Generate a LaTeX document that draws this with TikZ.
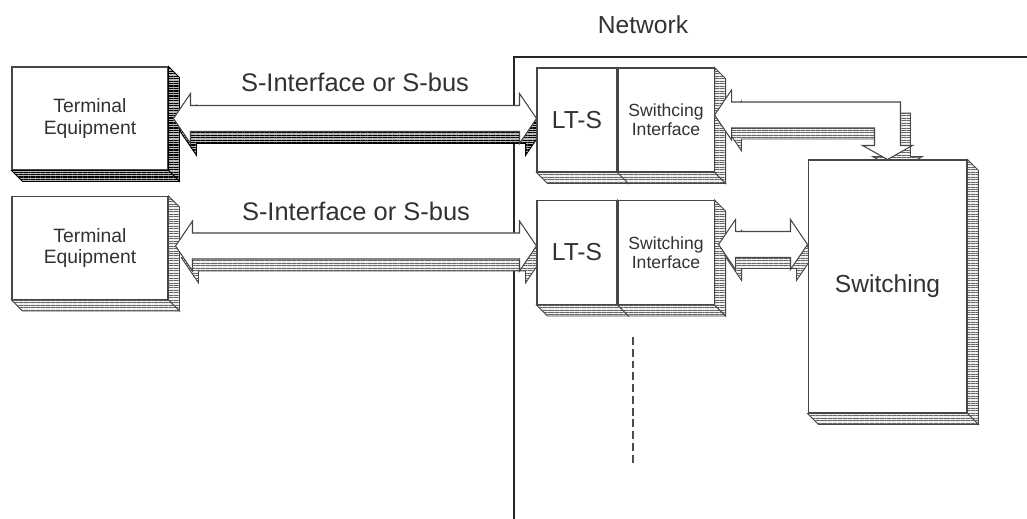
\documentclass[tikz,border=0pt]{standalone}
\usepackage{fontspec}
\setmainfont{Liberation Sans}
\usetikzlibrary{calc,positioning,patterns.meta}
\pgfdeclarelayer{bg}
\pgfdeclarelayer{mid}
\pgfdeclarelayer{top}
\pgfsetlayers{bg,mid,main,top}
\definecolor{inkgray}{RGB}{50,50,50}
\definecolor{edgegray}{RGB}{70,70,70}

\newcommand\headlen{0.34cm}
\newcommand\headhalf{0.5cm}
\newcommand\shafthalf{0.26cm}
\newcommand\downhead{0.28cm}

% side and bottom faces of a box node
\newcommand\boxfaces[2]{%
  \draw[#2] (#1.north east) -- ++(11,11) -- ($(#1.south east)+(11,11)$) -- (#1.south east) -- cycle;
  \draw[#2] (#1.south west) -- ++(11,11) -- ($(#1.south east)+(11,11)$) -- (#1.south east) -- cycle;}

% fat double arrow, #3/#4 = shift right/down
\newcommand\dblpoly[4]{let \p1=(#1), \p2=(#2) in
  (\x1+#3,\y1-#4) -- (\x1+#3+\headlen,\y1-#4+\headhalf) -- (\x1+#3+\headlen,\y1-#4+\shafthalf)
  -- (\x2+#3-\headlen,\y1-#4+\shafthalf) -- (\x2+#3-\headlen,\y1-#4+\headhalf) -- (\x2+#3,\y1-#4)
  -- (\x2+#3-\headlen,\y1-#4-\headhalf) -- (\x2+#3-\headlen,\y1-#4-\shafthalf)
  -- (\x1+#3+\headlen,\y1-#4-\shafthalf) -- (\x1+#3+\headlen,\y1-#4-\headhalf) -- cycle}

% fat double arrow bent right then down
\newcommand\bentpoly[4]{let \p1=(#1), \p2=(#2) in
  (\x1+#3,\y1-#4) -- (\x1+#3+\headlen,\y1-#4+\headhalf) -- (\x1+#3+\headlen,\y1-#4+\shafthalf)
  -- (\x2+#3+\shafthalf,\y1-#4+\shafthalf) -- (\x2+#3+\shafthalf,\y2-#4+\downhead)
  -- (\x2+#3+\headhalf,\y2-#4+\downhead) -- (\x2+#3,\y2-#4) -- (\x2+#3-\headhalf,\y2-#4+\downhead)
  -- (\x2+#3-\shafthalf,\y2-#4+\downhead) -- (\x2+#3-\shafthalf,\y1-#4-\shafthalf)
  -- (\x1+#3+\headlen,\y1-#4-\shafthalf) -- (\x1+#3+\headlen,\y1-#4-\headhalf) -- cycle}

\begin{document}
\begin{tikzpicture}[x=0.02cm, y=-0.02cm,
    every node/.style={text=inkgray},
    unit/.style={draw=edgegray, fill=white, line width=0.6pt, inner sep=0pt, align=center},
    termbox/.style={unit, minimum width=3.12cm, minimum height=2.06cm, font=\fontsize{11}{12.5}\selectfont},
    ltbox/.style={unit, minimum width=1.6cm, minimum height=2.08cm, font=\fontsize{14}{16}\selectfont},
    sibox/.style={unit, minimum width=1.92cm, minimum height=2.08cm, font=\fontsize{10}{11}\selectfont},
    swbox/.style={unit, minimum width=3.18cm, minimum height=5.06cm, font=\fontsize{14}{16}\selectfont},
    buslabel/.style={font=\fontsize{14.5}{16}\selectfont},
    lightface/.style={draw=edgegray, line width=0.5pt, preaction={fill=gray!12},
      pattern={Lines[distance=1.4pt,line width=0.4pt]}, pattern color=gray!80!black},
    darkface/.style={draw=black, line width=0.5pt, preaction={fill=gray!55},
      pattern={Lines[distance=1.4pt,line width=0.7pt]}, pattern color=black},
    arrowfront/.style={draw=edgegray, line width=0.6pt, fill=white},
    netline/.style={draw=gray!30!black, line width=1.2pt},
    moreline/.style={draw=gray!60!black, line width=1.6pt, dash pattern=on 4.5pt off 2.2pt}
]
\useasboundingbox (0,0) rectangle (1027,519);

% network side, on top
\begin{pgfonlayer}{top}
\node[swbox] (sw) at (887.5,286.5) {Switching};
\boxfaces{sw}{lightface}
\end{pgfonlayer}

\node[ltbox] (lts1) at (577,120) {LT-S};
\boxfaces{lts1}{lightface}
\node[sibox, right=0pt of lts1] (si1) {Swithcing\\Interface};
\boxfaces{si1}{lightface}

\node[ltbox] (lts2) at (577,252.5) {LT-S};
\boxfaces{lts2}{lightface}
\node[sibox, right=0pt of lts2] (si2) {Switching\\Interface};
\boxfaces{si2}{lightface}

\coordinate (b3l) at ($(si1.east)+(0,-5)$);
\draw[lightface] \bentpoly{b3l}{sw.north}{0.2cm}{0.22cm};
\draw[arrowfront] \bentpoly{b3l}{sw.north}{0pt}{0pt};

\coordinate (b4l) at ($(si2.east)+(4,-8)$);
\coordinate (b4r) at (b4l -| sw.west);
\draw[lightface] \dblpoly{b4l}{b4r}{0.12cm}{0.22cm};
\draw[arrowfront] \dblpoly{b4l}{b4r}{0pt}{0pt};

\coordinate (more1) at (633,337);
\coordinate (more2) at (633,465);
\draw[moreline] (more1) -- (more2);

% terminals and network border
\begin{pgfonlayer}{bg}
\draw[netline] (1027,57) -- (514,57) -- (514,519);
\node[termbox] (te1) at (90,118.5) {Terminal\\Equipment};
\boxfaces{te1}{darkface}
\node[termbox] (te2) at (90,248) {Terminal\\Equipment};
\boxfaces{te2}{lightface}
\end{pgfonlayer}

\node[font=\fontsize{14}{16}\selectfont] (netlabel) at (643,25) {Network};

% S-buses
\begin{pgfonlayer}{mid}
\coordinate (b1l) at ($(te1.east)+(5,0)$);
\coordinate (b1r) at (b1l -| lts1.west);
\draw[darkface] \dblpoly{b1l}{b1r}{0.12cm}{0.24cm};
\draw[arrowfront] \dblpoly{b1l}{b1r}{0pt}{0pt};
\node[buslabel] (bus1) at ($(b1l)!0.5!(b1r)+(0,-36)$) {S-Interface or S-bus};

\coordinate (b2l) at ($(te2.east)+(7,-2)$);
\coordinate (b2r) at (b2l -| lts2.west);
\draw[lightface] \dblpoly{b2l}{b2r}{0.12cm}{0.24cm};
\draw[arrowfront] \dblpoly{b2l}{b2r}{0pt}{0pt};
\node[buslabel] (bus2) at ($(b2l)!0.5!(b2r)+(0,-35)$) {S-Interface or S-bus};
\end{pgfonlayer}

\end{tikzpicture}
\end{document}
